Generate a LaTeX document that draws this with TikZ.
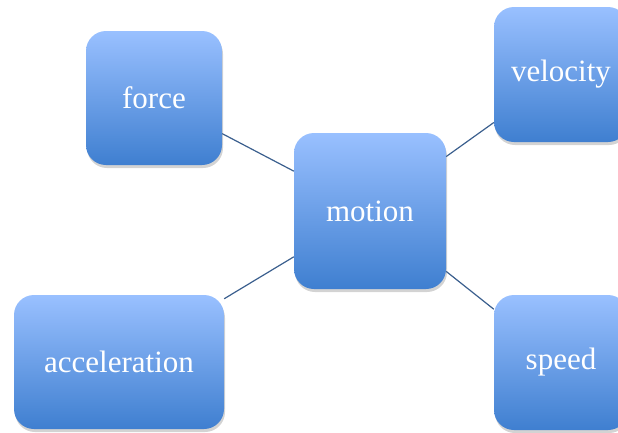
\documentclass[tikz,border=0pt]{standalone}
\usepackage{fontspec}
\setmainfont{Liberation Serif}
\usepackage{xcolor}
\usetikzlibrary{positioning,shadows}

\definecolor{boxtop}{RGB}{153,192,255}
\definecolor{boxbottom}{RGB}{63,127,208}
\definecolor{linkblue}{RGB}{59,95,142}

\begin{document}
\begin{tikzpicture}[x=1pt,y=-1pt]
		\tikzset{
			topic/.style={
					rounded corners=20pt,
					top color=boxtop,
					bottom color=boxbottom,
					draw=none,
					inner sep=0pt,
					text=white,
					font=\fontsize{31}{36}\selectfont,
					drop shadow={shadow xshift=1pt,shadow yshift=-3pt,opacity=0.35},
				},
			link/.style={draw=linkblue, line width=1.2pt},
		}
		\useasboundingbox (0,0) rectangle (618,432);
		%
		\node[topic, minimum width=152pt, minimum height=156pt] (motion) at (370,211) {motion};
		\node[topic, minimum width=136pt, minimum height=134pt] (force) at (154,98) {force};
		\node[topic, minimum width=134pt, minimum height=135pt] (velocity) at (561,74.5) {velocity};
		\node[topic, minimum width=210pt, minimum height=134pt] (acceleration) at (119,362) {acceleration};
		\node[topic, minimum width=134pt, minimum height=135pt] (speed) at (561,362.5) {speed};
		%
		\foreach \leaf in {force,velocity,acceleration,speed}
			\draw[link] (motion) -- (\leaf);
	\end{tikzpicture}
\end{document}
